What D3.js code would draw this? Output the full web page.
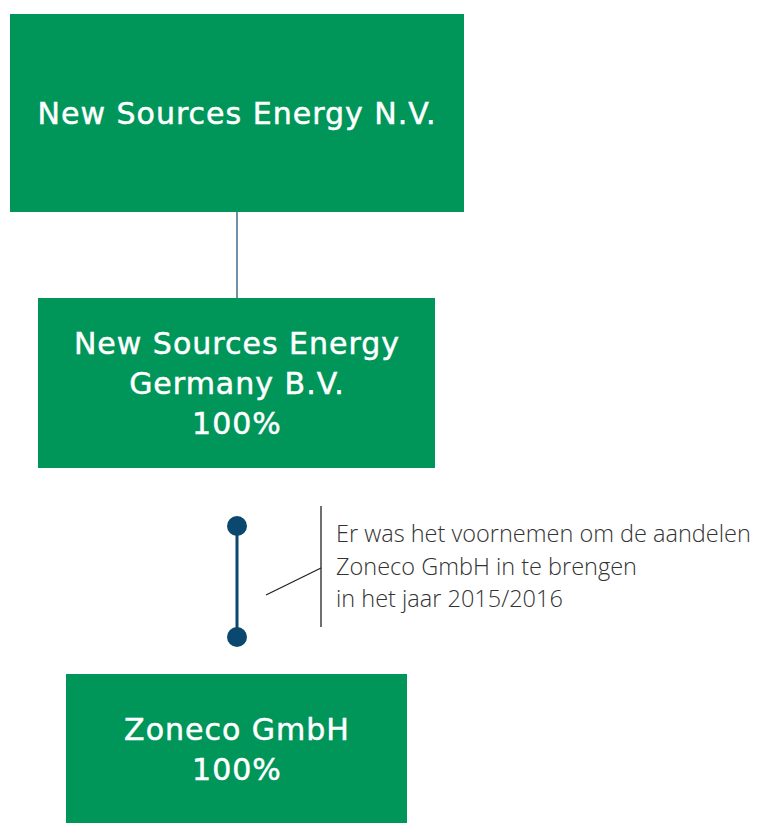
<!DOCTYPE html>
<html>
<head>
<meta charset="utf-8">
<script src="https://cdn.jsdelivr.net/npm/d3@7"></script>
<style>
  html, body { margin: 0; padding: 0; background: #fff; }
  svg { display: block; }
</style>
</head>
<body>
<svg id="canvas"></svg>
<script>
// entities in the structure, top to bottom
const entityNames = [
  ["New Sources Energy N.V."],
  ["New Sources Energy", "Germany B.V."],
  ["Zoneco GmbH"]
]
const entityShares = [null, "100%", "100%"]
const linkTypes = ["solid", "planned"]
const noteLines = [
  "Er was het voornemen om de aandelen",
  "Zoneco GmbH in te brengen",
  "in het jaar 2015/2016"
]

const width = 759
const height = 823
const green = "#00965a"
const navy = "#0b4870"

// box layout (pixels)
const boxes = [
  {x0: 10, x1: 464, y0: 14, y1: 212},
  {x0: 38, x1: 435, y0: 298, y1: 468},
  {x0: 66, x1: 407, y0: 674, y1: 823}
]
const cx = 237

const svg = d3.select("#canvas").attr("width", width).attr("height", height)

const nodes = entityNames.map((name, i) => {
  let lines = name.slice()
  if (entityShares[i]) lines.push(entityShares[i])
  return Object.assign({lines: lines}, boxes[i])
})

// links between boxes
linkTypes.forEach((type, i) => {
  const a = nodes[i], b = nodes[i + 1]
  if (type === "solid") {
    svg.append("line")
      .attr("x1", cx).attr("x2", cx)
      .attr("y1", a.y1).attr("y2", b.y0)
      .attr("stroke", navy).attr("stroke-width", 1.2)
  } else {
    const yTop = a.y1 + 58, yBot = b.y0 - 37
    svg.append("line")
      .attr("x1", cx).attr("x2", cx)
      .attr("y1", yTop).attr("y2", yBot)
      .attr("stroke", navy).attr("stroke-width", 3)
    svg.selectAll(".dot")
      .data([yTop, yBot])
      .enter()
      .append("circle")
      .attr("cx", cx).attr("cy", d => d).attr("r", 10)
      .attr("fill", navy)

    // note with bracket
    const bx = 321
    svg.append("line")
      .attr("x1", bx).attr("x2", bx)
      .attr("y1", 506).attr("y2", 627)
      .attr("stroke", "#222").attr("stroke-width", 1.3)
    svg.append("line")
      .attr("x1", 266).attr("x2", bx)
      .attr("y1", 595).attr("y2", 568)
      .attr("stroke", "#222").attr("stroke-width", 1.3)
    svg.append("text")
      .attr("x", 336).attr("y", 542)
      .attr("font-family", "'Open Sans', sans-serif")
      .attr("font-weight", 300)
      .attr("font-size", 23.5)
      .attr("fill", "#333")
      .selectAll("tspan")
      .data(noteLines)
      .enter()
      .append("tspan")
      .attr("x", 336)
      .attr("dy", (d, j) => j === 0 ? 0 : 32.5)
      .text(d => d)
  }
})

const g = svg.selectAll(".box")
  .data(nodes)
  .enter()
  .append("g")
  .attr("class", "box")

g.append("rect")
  .attr("x", d => d.x0).attr("y", d => d.y0)
  .attr("width", d => d.x1 - d.x0).attr("height", d => d.y1 - d.y0)
  .attr("fill", green)

const lineH = 40
g.append("text")
  .attr("text-anchor", "middle")
  .attr("font-family", "'DejaVu Sans', sans-serif")
  .attr("font-size", 30)
  .attr("letter-spacing", 1)
  .attr("fill", "#fff")
  .attr("stroke", "#fff")
  .attr("stroke-width", 0.5)
  .each(function(d) {
    const mid = (d.y0 + d.y1) / 2
    const first = mid + 11 - (d.lines.length - 1) * lineH / 2
    d3.select(this).selectAll("tspan")
      .data(d.lines)
      .enter()
      .append("tspan")
      .attr("x", cx)
      .attr("y", (l, j) => first + j * lineH)
      .text(l => l)
  })
</script>
</body>
</html>
